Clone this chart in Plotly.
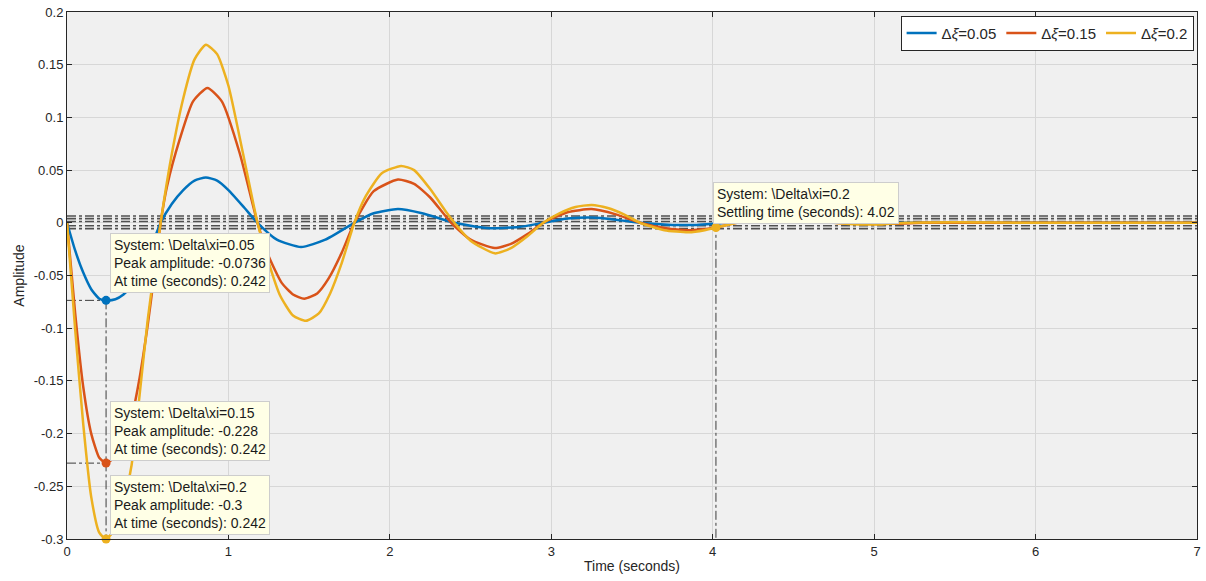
import plotly.graph_objects as go

# ---- data ----
t_blue = [0, 0.05, 0.1, 0.15, 0.2, 0.242, 0.3, 0.35, 0.4, 0.45, 0.5, 0.58, 0.65, 0.72, 0.79, 0.86, 0.93, 1.0,
          1.1, 1.18, 1.3, 1.45, 1.6, 1.78, 1.9, 2.05, 2.2, 2.4, 2.6, 2.8, 2.95, 3.1, 3.25, 3.4, 3.55, 3.75,
          3.9, 4.1, 4.4, 4.7, 5.0, 6.0, 7.0]
y_blue = [0, -0.026, -0.047, -0.063, -0.072, -0.0736, -0.0725, -0.068, -0.06, -0.048, -0.032, 0, 0.018, 0.031,
          0.04, 0.043, 0.04, 0.031, 0.014, 0, -0.016, -0.023, -0.016, 0, 0.009, 0.013, 0.009, 0, -0.005,
          -0.004, 0, 0.004, 0.005, 0.003, 0, -0.002, -0.002, 0, 0.001, 0, 0, 0, 0]

t_red = [0, 0.05, 0.1, 0.15, 0.2, 0.242, 0.3, 0.35, 0.4, 0.45, 0.5, 0.54, 0.58, 0.62, 0.7, 0.78, 0.87, 0.96,
         1.07, 1.18, 1.25, 1.33, 1.4, 1.47, 1.55, 1.62, 1.7, 1.78, 1.9, 2.05, 2.15, 2.25, 2.38, 2.5, 2.65, 2.75,
         2.85, 2.95, 3.1, 3.25, 3.4, 3.55, 3.7, 3.85, 4.0, 4.15, 4.3, 4.45, 4.6, 4.75, 4.9, 5.1, 5.3, 6.0, 7.0]
y_red = [0, -0.085, -0.155, -0.2, -0.223, -0.228, -0.222, -0.21, -0.185, -0.147, -0.097, -0.05, 0, 0.035,
         0.08, 0.115, 0.128, 0.115, 0.066, 0, -0.032, -0.057, -0.068, -0.072, -0.067, -0.053, -0.029, 0, 0.03,
         0.041, 0.037, 0.024, 0, -0.016, -0.024, -0.02, -0.011, 0, 0.01, 0.013, 0.008, 0, -0.005, -0.007,
         -0.005, 0, 0.002, 0.003, 0.002, 0, -0.001, -0.001, 0, 0, 0]

t_yel = [0, 0.05, 0.1, 0.15, 0.2, 0.242, 0.3, 0.35, 0.4, 0.45, 0.5, 0.58, 0.65, 0.72, 0.79, 0.86, 0.93, 1.0,
         1.09, 1.18, 1.25, 1.32, 1.4, 1.48, 1.56, 1.63, 1.7, 1.78, 1.85, 1.95, 2.07, 2.15, 2.25, 2.35,
         2.4, 2.5, 2.65, 2.75, 2.85, 2.95, 3.05, 3.15, 3.25, 3.35, 3.45, 3.55, 3.7, 3.85, 3.95, 4.02, 4.15,
         4.3, 4.45, 4.6, 4.75, 4.9, 5.05, 5.2, 5.5, 6.0, 7.0]
y_yel = [0, -0.1, -0.19, -0.26, -0.294, -0.3, -0.29, -0.265, -0.23, -0.163, -0.092, 0, 0.066, 0.118, 0.155,
         0.169, 0.16, 0.13, 0.066, 0, -0.038, -0.069, -0.088, -0.093, -0.086, -0.067, -0.039, 0, 0.025,
         0.047, 0.054, 0.05, 0.032, 0.01, 0, -0.017, -0.029, -0.024, -0.013, 0, 0.009, 0.015, 0.017, 0.014,
         0.008, 0, -0.007, -0.009, -0.007, -0.0045, 0, 0.004, 0.005, 0.003, 0, -0.0015, -0.0015, 0, 0.0005, 0, 0]

names = ["Δ<i>ξ</i>=0.05", "Δ<i>ξ</i>=0.15", "Δ<i>ξ</i>=0.2"]
colors = ["#0072BD", "#D95319", "#EDB120"]

peak_time = 0.242
peak_vals = [-0.0736, -0.228, -0.3]
settle_time = 4.02
settle_val = -0.0045
band_levels = [0.0065, 0.004, 0.0012, -0.0028, -0.0055]

x_ticks = [0, 1, 2, 3, 4, 5, 6, 7]
y_ticks = [0.2, 0.15, 0.1, 0.05, 0, -0.05, -0.1, -0.15, -0.2, -0.25, -0.3]
y_tick_labels = ["0.2", "0.15", "0.1", "0.05", "0", "-0.05", "-0.1", "-0.15", "-0.2", "-0.25", "-0.3"]

fig = go.Figure()

ref_col = "#3c3c3c"
# settling band lines
for lv in band_levels:
    fig.add_trace(go.Scatter(x=[0, 7], y=[lv, lv], mode="lines", showlegend=False, hoverinfo="skip",
                             line=dict(color="#505050", width=1.6, dash="dashdot")))

# peak reference lines
for pv in peak_vals[:2]:
    fig.add_trace(go.Scatter(x=[0, peak_time], y=[pv, pv], mode="lines", showlegend=False, hoverinfo="skip",
                             line=dict(color=ref_col, width=1, dash="dashdot")))
fig.add_trace(go.Scatter(x=[peak_time, peak_time], y=[peak_vals[0], -0.3], mode="lines", showlegend=False,
                         hoverinfo="skip", line=dict(color=ref_col, width=1, dash="dashdot")))
fig.add_trace(go.Scatter(x=[settle_time, settle_time], y=[0, -0.3], mode="lines", showlegend=False,
                         hoverinfo="skip", line=dict(color=ref_col, width=1, dash="dashdot")))

series = [(t_blue, y_blue), (t_red, y_red), (t_yel, y_yel)]
for (tx, ty), nm, c in zip(series, names, colors):
    fig.add_trace(go.Scatter(x=tx, y=ty, mode="lines", name=nm,
                             line=dict(color=c, width=2.5, shape="spline", smoothing=0.55)))

for pv, c in zip(peak_vals, colors):
    fig.add_trace(go.Scatter(x=[peak_time], y=[pv], mode="markers", showlegend=False, cliponaxis=False,
                             marker=dict(color=c, size=9)))
fig.add_trace(go.Scatter(x=[settle_time], y=[settle_val], mode="markers", showlegend=False, cliponaxis=False,
                         marker=dict(color=colors[2], size=9)))

box_font = dict(family="Liberation Sans, Arial", size=14, color="#1a1a1a")
ann = [
    (0.265, -0.0095, "System: \\Delta\\xi=0.05<br>Peak amplitude: -0.0736<br>At time (seconds): 0.242"),
    (0.265, -0.1686, "System: \\Delta\\xi=0.15<br>Peak amplitude: -0.228<br>At time (seconds): 0.242"),
    (0.265, -0.2396, "System: \\Delta\\xi=0.2<br>Peak amplitude: -0.3<br>At time (seconds): 0.242"),
    (4.0, 0.0388, "System: \\Delta\\xi=0.2<br>Settling time (seconds): 4.02"),
]
for ax, ay, txt in ann:
    fig.add_annotation(x=ax, y=ay, xref="x", yref="y", text=txt, showarrow=False, xanchor="left",
                       yanchor="top", align="left", bgcolor="#FFFFE6", bordercolor="#CDCDCD",
                       borderwidth=1, borderpad=3, font=box_font)

axis_common = dict(showgrid=True, gridcolor="#D7D7D7", gridwidth=1, zeroline=False, showline=True,
                   linecolor="#262626", linewidth=1, mirror="ticks", ticks="inside", ticklen=5,
                   tickcolor="#262626", tickfont=dict(family="Liberation Sans, Arial", size=13, color="#262626"))

fig.update_layout(
    width=1206, height=581,
    margin=dict(l=67, r=5, t=11, b=42),
    paper_bgcolor="white", plot_bgcolor="#F0F0F0",
    font=dict(family="Liberation Sans, Arial", size=13, color="#262626"),
    legend=dict(orientation="h", x=0.997, xanchor="right", y=0.993, yanchor="top",
                bgcolor="white", bordercolor="#262626", borderwidth=1,
                font=dict(family="Liberation Sans, Arial", size=15, color="#262626"),
                itemwidth=30, tracegroupgap=0),
    xaxis=dict(range=[0, 7], tickvals=x_ticks, title=dict(text="Time (seconds)", standoff=3,
               font=dict(size=14)), **axis_common),
    yaxis=dict(range=[-0.3, 0.2], tickvals=y_ticks, ticktext=y_tick_labels,
               title=dict(text="Amplitude", standoff=5, font=dict(size=14)), **axis_common),
)

fig.write_html("out.html")
